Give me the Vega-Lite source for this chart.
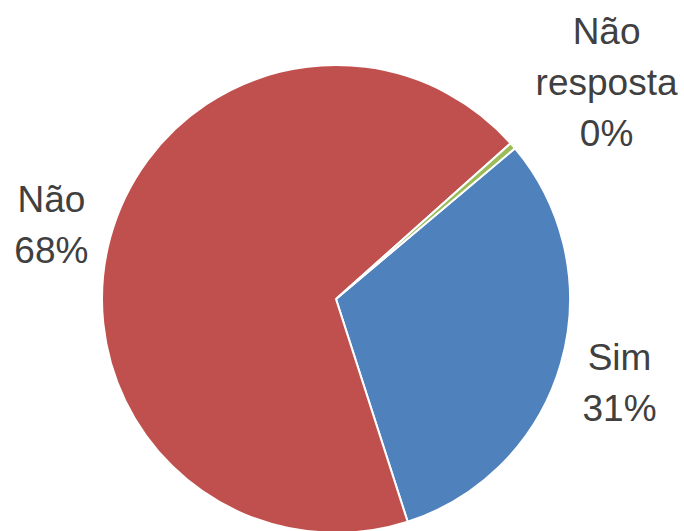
{
  "$schema": "https://vega.github.io/schema/vega-lite/v6.json",
  "autosize": "none",
  "padding": {"left": 0, "top": 0, "right": 12, "bottom": 0},
  "width": 672,
  "height": 598,
  "background": "white",
  "data": {"values": [
    {"cat": "Sim", "value": 31.2, "ord": 1, "label": "Sim\n31%"},
    {"cat": "Não", "value": 68.4, "ord": 2, "label": "Não\n68%"},
    {"cat": "Não resposta", "value": 0.45, "ord": 3, "label": "Não\nresposta\n0%"}
  ]},
  "encoding": {
    "theta": {"field": "value", "type": "quantitative", "stack": true, "scale": {"range": [0.871, 7.154]}},
    "order": {"field": "ord", "type": "quantitative"}
  },
  "layer": [
    {
      "mark": {"type": "arc", "outerRadius": 234, "stroke": "white", "strokeWidth": 2},
      "encoding": {
        "color": {"field": "cat", "type": "nominal", "legend": null,
          "scale": {"domain": ["Sim", "Não", "Não resposta"], "range": ["#4F81BD", "#C0504D", "#9BBB59"]}}
      }
    },
    {
      "transform": [{"filter": "datum.cat !== 'Não resposta'"}],
      "mark": {"type": "text", "font": "Liberation Sans", "fontSize": 37, "lineBreak": "\n", "lineHeight": 51, "color": "#404040", "align": "center", "baseline": "middle", "dy": -21, "radius": 295},
      "encoding": {
        "text": {"field": "label"}
      }
    },
    {
      "transform": [{"filter": "datum.cat === 'Não resposta'"}],
      "mark": {"type": "text", "font": "Liberation Sans", "fontSize": 37, "lineBreak": "\n", "lineHeight": 51, "color": "#404040", "align": "center", "baseline": "middle", "dx": 2, "dy": -46, "radius": 347},
      "encoding": {
        "text": {"field": "label"}
      }
    }
  ]
}
